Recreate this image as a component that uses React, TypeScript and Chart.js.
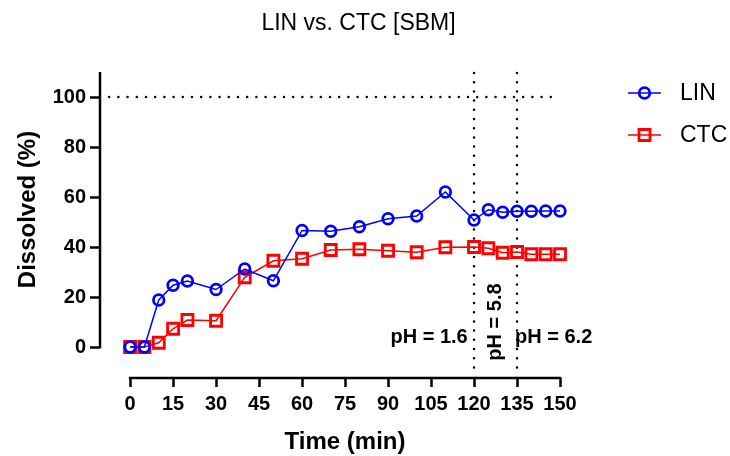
import React, { useEffect, useRef } from "react";
import { Chart, registerables } from "chart.js";

Chart.register(...registerables);

const times = [0, 5, 10, 15, 20, 30, 40, 50, 60, 70, 80, 90, 100, 110, 120, 125, 130, 135, 140, 145, 150];
const linValues = [0, 0, 18.8, 24.7, 26.4, 23, 31.2, 26.5, 46.6, 46.3, 48.1, 51.3, 52.4, 62, 50.8, 54.9, 53.9, 54.3, 54.3, 54.4, 54.4];
const ctcValues = [0, 0, 1.7, 7.3, 10.8, 10.5, 27.9, 34.5, 35.3, 38.8, 39.1, 38.5, 37.9, 39.9, 40, 39.5, 37.7, 38, 37.1, 37.1, 37.1];
const seriesNames = ["LIN", "CTC"];
const xTickValues = [0, 15, 30, 45, 60, 75, 90, 105, 120, 135, 150];
const yTickValues = [0, 20, 40, 60, 80, 100];
const phChangeTimes = [120, 135];
const phLabels = ["pH = 1.6", "pH = 5.8", "pH = 6.2"];
const referenceLevel = 100;
const titleText = "LIN vs. CTC [SBM]";
const xTitle = "Time (min)";
const yTitle = "Dissolved (%)";

const FONT = "'Liberation Sans', Arial, Helvetica, sans-serif";
const BLUE = "#0000ff";
const RED = "#ff0000";

const decor = {
  id: "decor",
  beforeDatasetsDraw(chart: any) {
    const { ctx, chartArea } = chart;
    const x = chart.scales.x;
    const y = chart.scales.y;
    ctx.save();
    ctx.strokeStyle = "#000";
    ctx.lineWidth = 2.5;
    ctx.lineCap = "round";
    ctx.setLineDash([0, 9.2]);
    const yRef = y.getPixelForValue(referenceLevel);
    ctx.beginPath();
    ctx.moveTo(x.getPixelForValue(-7.3), yRef);
    ctx.lineTo(x.getPixelForValue(147), yRef);
    ctx.stroke();
    for (const t of phChangeTimes) {
      const px = x.getPixelForValue(t);
      ctx.beginPath();
      ctx.moveTo(px, chartArea.top + 1);
      ctx.lineTo(px, chartArea.bottom - 2);
      ctx.stroke();
    }
    ctx.restore();
  },
  afterDraw(chart: any) {
    const { ctx, chartArea } = chart;
    const x = chart.scales.x;
    const y = chart.scales.y;
    ctx.save();
    // axes
    ctx.strokeStyle = "#000";
    ctx.lineWidth = 2.5;
    ctx.lineCap = "butt";
    ctx.beginPath();
    ctx.moveTo(chartArea.left, chartArea.top);
    ctx.lineTo(chartArea.left, y.getPixelForValue(0) + 1.25);
    ctx.stroke();
    ctx.beginPath();
    ctx.moveTo(x.getPixelForValue(0) - 1.25, chartArea.bottom);
    ctx.lineTo(x.getPixelForValue(150) + 1.25, chartArea.bottom);
    ctx.stroke();

    // pH labels
    ctx.fillStyle = "#000";
    ctx.font = `bold 20px ${FONT}`;
    ctx.textBaseline = "middle";
    ctx.textAlign = "right";
    ctx.fillText(phLabels[0], x.getPixelForValue(117.8), y.getPixelForValue(4));
    ctx.textAlign = "left";
    ctx.fillText(phLabels[2], x.getPixelForValue(134.3), y.getPixelForValue(4));
    ctx.save();
    ctx.translate(x.getPixelForValue(127.5), y.getPixelForValue(10));
    ctx.rotate(-Math.PI / 2);
    ctx.textAlign = "center";
    ctx.fillText(phLabels[1], 0, 0);
    ctx.restore();

    // title
    ctx.font = `23px ${FONT}`;
    ctx.textAlign = "center";
    ctx.fillText(titleText, 358.5, 24);

    // axis titles
    ctx.font = `bold 24px ${FONT}`;
    ctx.fillText(xTitle, (x.getPixelForValue(0) + x.getPixelForValue(150)) / 2, 442);
    ctx.save();
    ctx.translate(28, (chartArea.top + y.getPixelForValue(0)) / 2);
    ctx.rotate(-Math.PI / 2);
    ctx.fillText(yTitle, 0, 0);
    ctx.restore();

    // legend
    const legendY = [93, 135];
    chart.data.datasets.forEach((ds: any, i: number) => {
      const ly = legendY[i];
      ctx.strokeStyle = ds.borderColor;
      ctx.lineWidth = 1.5;
      ctx.beginPath();
      ctx.moveTo(628, ly);
      ctx.lineTo(661, ly);
      ctx.stroke();
      ctx.lineWidth = 2.8;
      ctx.beginPath();
      if (ds.pointStyle === "circle") {
        ctx.arc(644.5, ly, 5.3, 0, Math.PI * 2);
      } else {
        ctx.rect(644.5 - 5.5, ly - 5.5, 11, 11);
      }
      ctx.stroke();
      ctx.fillStyle = "#000";
      ctx.font = `23px ${FONT}`;
      ctx.textAlign = "left";
      ctx.textBaseline = "middle";
      ctx.fillText(ds.label, 680, ly + 1);
    });
    ctx.restore();
  },
};

export default function App() {
  const ref = useRef<HTMLCanvasElement | null>(null);
  useEffect(() => {
    if (!ref.current) return;
    const chart = new Chart(ref.current, {
      type: "line",
      data: {
        datasets: [
          {
            label: seriesNames[0],
            data: times.map((t, i) => ({ x: t, y: linValues[i] })),
            borderColor: BLUE,
            backgroundColor: "rgba(0,0,0,0)",
            borderWidth: 1.5,
            pointStyle: "circle",
            pointRadius: 5.3,
            pointBorderWidth: 2.8,
            pointBorderColor: BLUE,
            pointBackgroundColor: "rgba(0,0,0,0)",
            clip: false,
          } as any,
          {
            label: seriesNames[1],
            data: times.map((t, i) => ({ x: t, y: ctcValues[i] })),
            borderColor: RED,
            backgroundColor: "rgba(0,0,0,0)",
            borderWidth: 1.5,
            pointStyle: "rect",
            pointRadius: 7.8,
            pointBorderWidth: 2.8,
            pointBorderColor: RED,
            pointBackgroundColor: "rgba(0,0,0,0)",
            clip: false,
          } as any,
        ],
      },
      options: {
        animation: false,
        responsive: false,
        layout: { padding: { left: 0, top: 72, right: 170, bottom: 0 } },
        plugins: {
          legend: { display: false },
          title: { display: false },
          tooltip: { enabled: false },
        },
        scales: {
          x: {
            type: "linear",
            min: -10.5,
            max: 150,
            afterBuildTicks: (scale: any) => {
              scale.ticks = xTickValues.map((v) => ({ value: v }));
            },
            afterFit: (scale: any) => {
              scale.height = 78;
            },
            grid: {
              display: true,
              drawOnChartArea: false,
              drawTicks: true,
              tickLength: 9,
              tickWidth: 2.5,
              tickColor: "#000",
            },
            border: { display: false },
            ticks: {
              autoSkip: false,
              maxRotation: 0,
              padding: 5,
              color: "#000",
              font: { family: FONT, size: 20, weight: "bold" },
              callback: (v: any) => String(v),
            },
          },
          y: {
            type: "linear",
            min: -12.4,
            max: 110,
            afterBuildTicks: (scale: any) => {
              scale.ticks = yTickValues.map((v) => ({ value: v }));
            },
            afterFit: (scale: any) => {
              scale.width = 100;
            },
            grid: {
              display: true,
              drawOnChartArea: false,
              drawTicks: true,
              tickLength: 10,
              tickWidth: 2.5,
              tickColor: "#000",
            },
            border: { display: false },
            ticks: {
              autoSkip: false,
              padding: 4,
              color: "#000",
              font: { family: FONT, size: 20, weight: "bold" },
              callback: (v: any) => String(v),
            },
          },
        },
      } as any,
      plugins: [decor],
    });
    return () => chart.destroy();
  }, []);
  return (
    <div style={{ position: "absolute", left: 0, top: 0, width: 730, height: 456, background: "#fff" }}>
      <canvas ref={ref} width={730} height={456} style={{ display: "block" }} />
    </div>
  );
}
